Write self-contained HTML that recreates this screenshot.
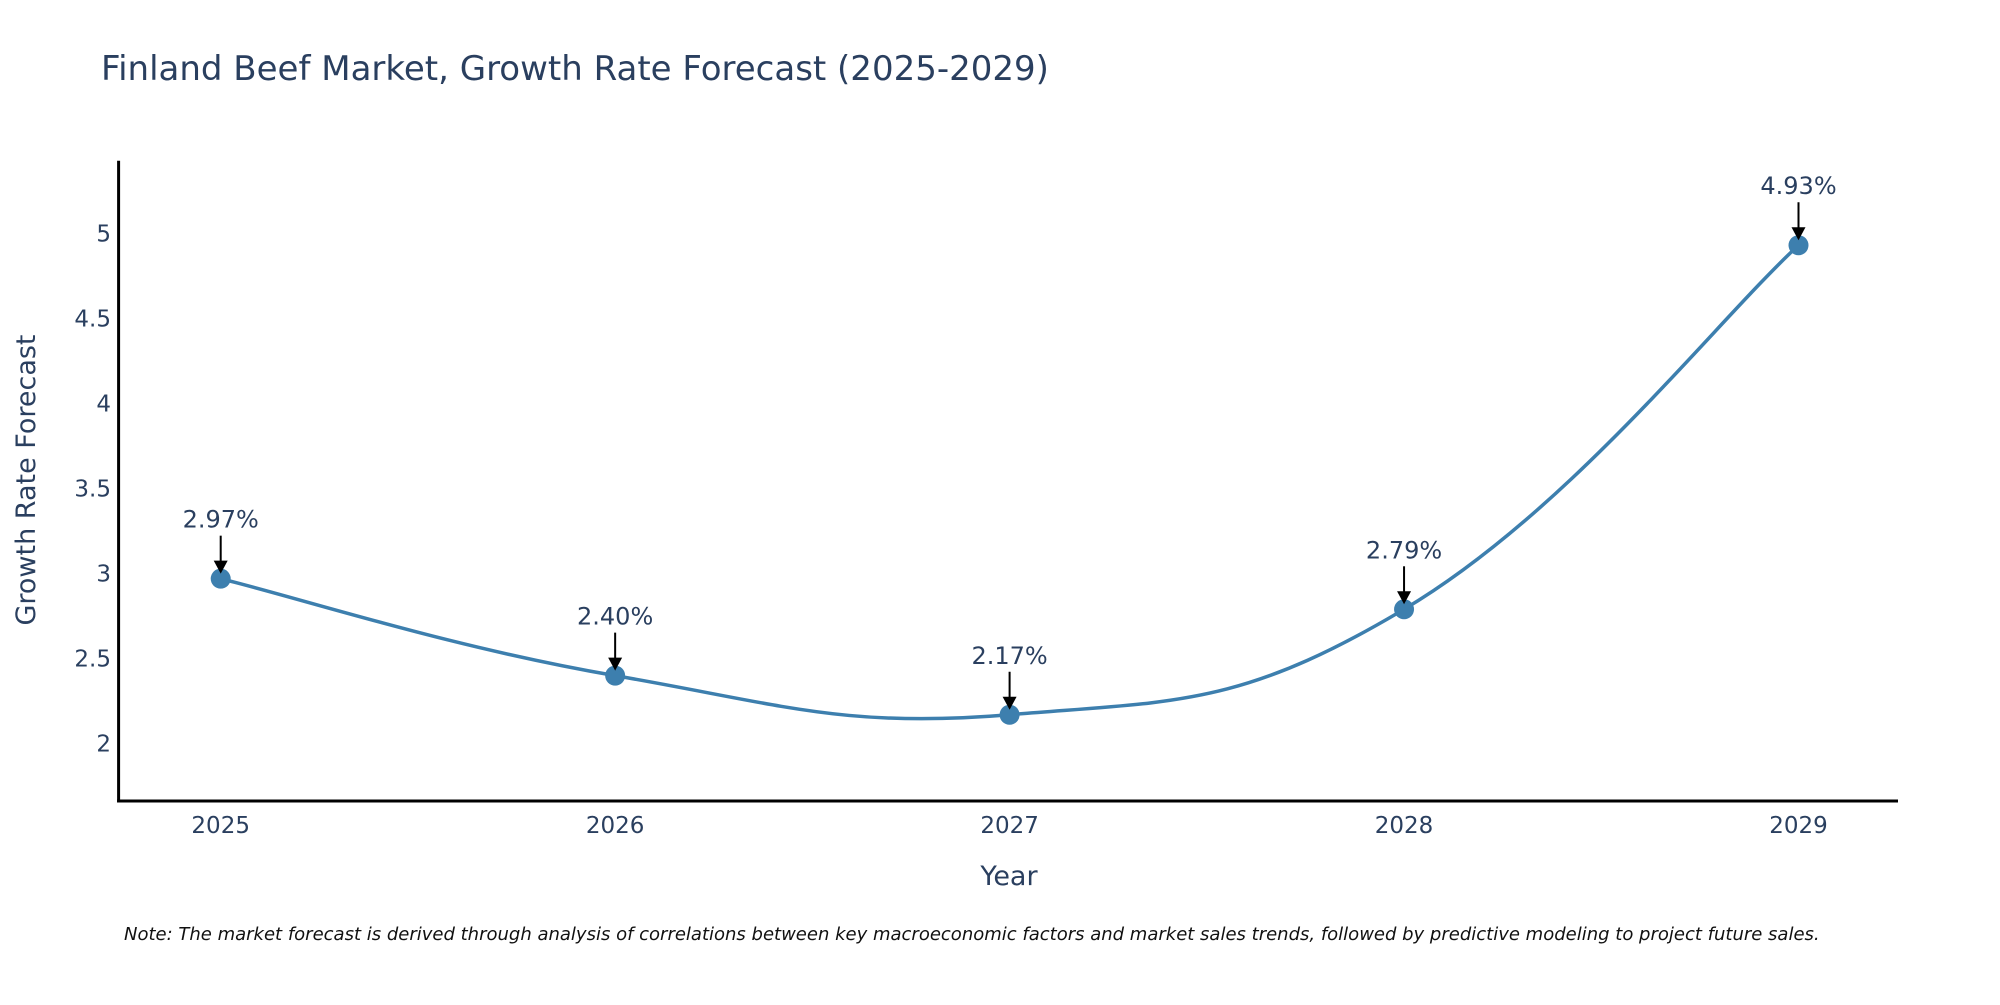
<!DOCTYPE html>
<html><head><meta charset="utf-8"><style>
body{margin:0;background:#fff;}
svg text{font-family:"DejaVu Sans","Liberation Sans",sans-serif;fill:#2a3f5f;}
</style></head><body>
<svg id="chart" width="2000" height="1000" xmlns="http://www.w3.org/2000/svg">
<text x="101" y="80" font-size="34">Finland Beef Market, Growth Rate Forecast (2025-2029)</text>
<g id="plot"></g>
<text transform="translate(35,480) rotate(-90)" text-anchor="middle" font-size="27">Growth Rate Forecast</text>
<text x="1009" y="885" text-anchor="middle" font-size="27">Year</text>
<text x="124" y="940" font-size="18" font-style="italic" style="fill:#111">Note: The market forecast is derived through analysis of correlations between key macroeconomic factors and market sales trends, followed by predictive modeling to project future sales.</text>
</svg>
<script>
const years = [2025, 2026, 2027, 2028, 2029];
const growth = [2.97, 2.40, 2.17, 2.79, 4.93];
const labels = ["2.97%", "2.40%", "2.17%", "2.79%", "4.93%"];
const yTicks = [2, 2.5, 3, 3.5, 4, 4.5, 5];
const yTickLabels = ["2", "2.5", "3", "3.5", "4", "4.5", "5"];

const NS = "http://www.w3.org/2000/svg";
const L = 118.6, R = 1898, T = 160.7, B = 801;
const yMin = 1.663, yMax = 5.427;
const x = v => 220.7 + (v - years[0]) * (1798.5 - 220.7) / (years[years.length-1] - years[0]);
const y = v => B - (v - yMin) * (B - T) / (yMax - yMin);
const g = document.getElementById("plot");
function mk(tag, attrs, parent){const e=document.createElementNS(NS,tag);for(const k in attrs)e.setAttribute(k,attrs[k]);(parent||g).appendChild(e);return e;}

let ax = mk("line",{x1:L,y1:T,x2:L,y2:B+1.5,stroke:"#000","stroke-width":3});


let bx = mk("line",{x1:L-1.5,y1:B,x2:R,y2:B,stroke:"#000","stroke-width":3});



yTicks.forEach((t,i)=>{
  const e = mk("text",{x:111,y:y(t)+8,"text-anchor":"end","font-size":23});
  e.textContent = yTickLabels[i];
  
  
});
years.forEach(yr=>{
  const e = mk("text",{x:x(yr),y:833,"text-anchor":"middle","font-size":23});
  e.textContent = String(yr);
  
  
});

const pts = years.map((yr,i)=>[x(yr), y(growth[i])]);
let d = "M"+pts[0][0]+","+pts[0][1];
for(let i=0;i<pts.length-1;i++){
  const p0=pts[Math.max(0,i-1)], p1=pts[i], p2=pts[i+1], p3=pts[Math.min(pts.length-1,i+2)];
  const k=0.21;
  const c1=[p1[0]+(p2[0]-p0[0])*k, p1[1]+(p2[1]-p0[1])*k];
  const c2=[p2[0]-(p3[0]-p1[0])*k, p2[1]-(p3[1]-p1[1])*k];
  d+=" C"+c1+" "+c2+" "+p2;
}
const line = mk("path",{d:d,fill:"none",stroke:"#3d7fae","stroke-width":3.5});



pts.forEach((p,i)=>{
  const c = mk("circle",{cx:p[0],cy:p[1],r:10,fill:"#3d7fae"});
  
  
  const a = mk("line",{x1:p[0],y1:p[1]-43,x2:p[0],y2:p[1]-16,stroke:"#000","stroke-width":2});
  
  
  const h = mk("polygon",{points:`${p[0]-7},${p[1]-18} ${p[0]+7},${p[1]-18} ${p[0]},${p[1]-5}`,fill:"#000"});
  
  
  const t = mk("text",{x:p[0],y:p[1]-51,"text-anchor":"middle","font-size":24});
  t.textContent = labels[i];
  
  
});
</script>
</body></html>
